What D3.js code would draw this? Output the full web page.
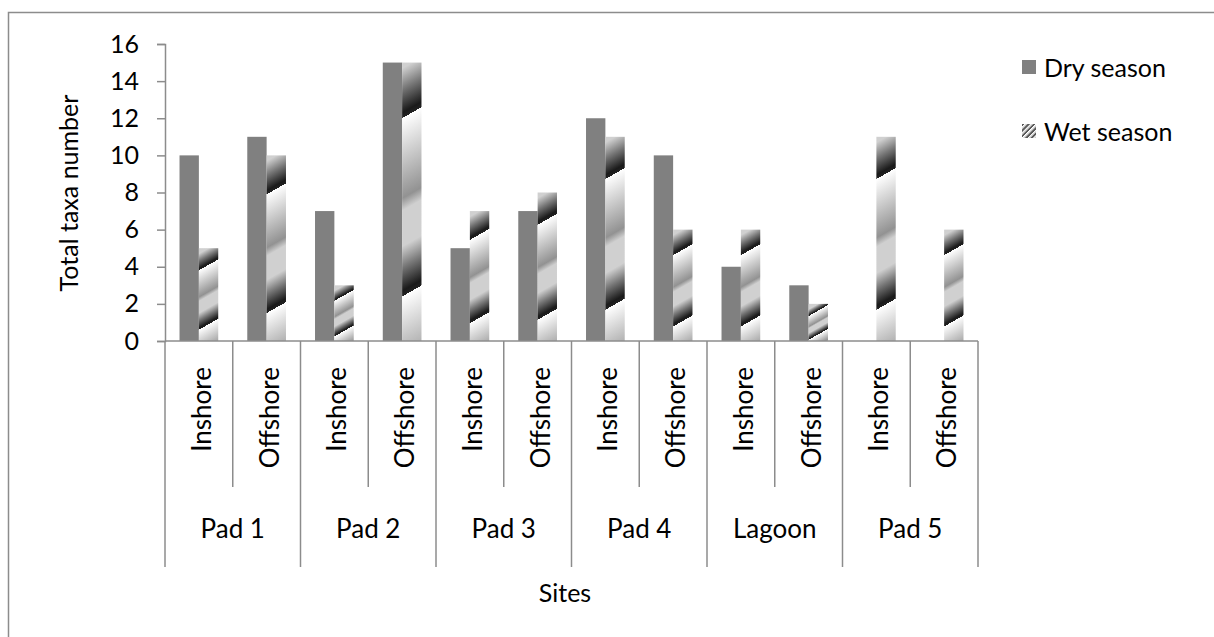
<!DOCTYPE html>
<html>
<head>
<meta charset="utf-8">
<script src="https://cdn.jsdelivr.net/npm/d3@7/dist/d3.min.js"></script>
<style>
  html, body { margin: 0; padding: 0; background: #fff; }
  svg { display: block; font-family: Lato, "Open Sans", sans-serif; }
</style>
</head>
<body>
<svg id="chart" width="1214" height="637"></svg>
<script>
// Sites and sampling positions
const groups = ["Pad 1", "Pad 2", "Pad 3", "Pad 4", "Lagoon", "Pad 5"];
const positions = ["Inshore", "Offshore"];

// Total taxa number per site/position (Inshore, Offshore for each site)
const drySeason = [10, 11, 7, 15, 5, 7, 12, 10, 4, 3, 0, 0];
const wetSeason = [5, 10, 3, 15, 7, 8, 11, 6, 6, 2, 11, 6];

const yTicks = [0, 2, 4, 6, 8, 10, 12, 14, 16];
const seriesNames = ["Dry season", "Wet season"];

const svg = d3.select("#chart");
const defs = svg.append("defs");

const axisColor = "#8c8c8c";
const font = 25;
const catFont = 26;

// Outer chart border
svg.append("rect")
  .attr("x", 8.5).attr("y", 12.5)
  .attr("width", 1230).attr("height", 640)
  .attr("fill", "none").attr("stroke", axisColor).attr("stroke-width", 1.5);

const plot = { left: 165, right: 978, top: 44, bottom: 341 };

const cats = [];
groups.forEach(g => positions.forEach(p => cats.push({ group: g, pos: p, key: g + "|" + p })));
cats.forEach((c, i) => { c.dry = drySeason[i]; c.wet = wetSeason[i]; });

const x = d3.scaleBand().domain(cats.map(c => c.key)).range([plot.left, plot.right]).padding(0);
const xs = d3.scaleBand().domain(["dry", "wet"]).range([0, x.bandwidth()])
  .paddingInner(0).paddingOuter(0.75);
const xg = d3.scaleBand().domain(groups).range([plot.left, plot.right]).padding(0);
const y = d3.scaleLinear().domain([0, 16]).range([plot.bottom, plot.top]);

// Y axis
const yAxis = svg.append("g")
  .attr("transform", `translate(${plot.left},0)`)
  .call(d3.axisLeft(y).tickValues(yTicks).tickSize(8).tickPadding(18));
yAxis.select(".domain").attr("stroke", axisColor).attr("stroke-width", 1.5);
yAxis.selectAll(".tick line").attr("stroke", axisColor).attr("stroke-width", 1.5);
yAxis.selectAll(".tick text").attr("font-size", font).attr("fill", "#000")
  .attr("font-family", "Lato, sans-serif");

// Dry season bars
svg.append("g").selectAll("rect").data(cats).join("rect")
  .attr("x", d => x(d.key) + xs("dry"))
  .attr("y", d => y(d.dry))
  .attr("width", xs.bandwidth())
  .attr("height", d => y(0) - y(d.dry))
  .attr("fill", "#808080");

// Wet season bars: repeating diagonal gradient bands inside each bar
const dir = [0.495, 0.869];
const stops = [
  [0, "#ffffff"], [0.45, "#929292"], [0.52, "#d0d0d0"], [0.72, "#d0d0d0"],
  [0.84, "#767676"], [0.97, "#1a1a1a"], [1, "#222222"]
];
cats.forEach((d, i) => {
  const h = y(0) - y(d.wet);
  const xc = x(d.key) + xs("wet") + xs.bandwidth() / 2;
  const y0 = y(d.wet) + 0.18 * h;
  const L = 0.64 * h * dir[1];
  const g = defs.append("linearGradient")
    .attr("id", "wet" + i)
    .attr("gradientUnits", "userSpaceOnUse")
    .attr("spreadMethod", "repeat")
    .attr("x1", xc).attr("y1", y0)
    .attr("x2", xc + L * dir[0]).attr("y2", y0 + L * dir[1]);
  stops.forEach(s => g.append("stop").attr("offset", s[0]).attr("stop-color", s[1]));
});
svg.append("g").selectAll("rect").data(cats).join("rect")
  .attr("x", d => x(d.key) + xs("wet"))
  .attr("y", d => y(d.wet))
  .attr("width", xs.bandwidth())
  .attr("height", d => y(0) - y(d.wet))
  .attr("fill", (d, i) => `url(#wet${i})`);

// X axis line
svg.append("line")
  .attr("x1", plot.left).attr("x2", plot.right)
  .attr("y1", plot.bottom).attr("y2", plot.bottom)
  .attr("stroke", axisColor).attr("stroke-width", 1.5);

// Separators between positions within a site
svg.append("g").selectAll("line").data(groups).join("line")
  .attr("x1", g => xg(g) + xg.bandwidth() / 2).attr("x2", g => xg(g) + xg.bandwidth() / 2)
  .attr("y1", plot.bottom).attr("y2", 487)
  .attr("stroke", axisColor).attr("stroke-width", 1.5);

// Separators between sites
const bounds = groups.map(g => xg(g)).concat([plot.right]);
svg.append("g").selectAll("line").data(bounds).join("line")
  .attr("x1", d => d).attr("x2", d => d)
  .attr("y1", plot.bottom).attr("y2", 567)
  .attr("stroke", axisColor).attr("stroke-width", 1.5);

// Position labels (rotated)
svg.append("g").selectAll("text").data(cats).join("text")
  .attr("transform", d => `translate(${x(d.key) + x.bandwidth() / 2 + 2},367) rotate(-90)`)
  .attr("text-anchor", "end")
  .attr("dominant-baseline", "central")
  .attr("font-size", catFont)
  .text(d => d.pos);

// Site labels
svg.append("g").selectAll("text").data(groups).join("text")
  .attr("x", g => xg(g) + xg.bandwidth() / 2)
  .attr("y", 528)
  .attr("text-anchor", "middle")
  .attr("dominant-baseline", "central")
  .attr("font-size", catFont)
  .text(g => g);

// Axis titles
svg.append("text")
  .attr("x", 565).attr("y", 592)
  .attr("text-anchor", "middle").attr("dominant-baseline", "central")
  .attr("font-size", font)
  .text("Sites");

svg.append("text")
  .attr("transform", "translate(68,193) rotate(-90)")
  .attr("text-anchor", "middle").attr("dominant-baseline", "central")
  .attr("font-size", font)
  .text("Total taxa number");

// Legend
const legend = svg.append("g").attr("transform", "translate(1022,0)");
const legendY = [67, 131];

legend.append("rect")
  .attr("x", 0).attr("y", legendY[0] - 7).attr("width", 14).attr("height", 14)
  .attr("fill", "#808080");

const lg = defs.append("linearGradient")
  .attr("id", "wetLegend")
  .attr("gradientUnits", "userSpaceOnUse")
  .attr("spreadMethod", "repeat")
  .attr("x1", 1022).attr("y1", legendY[1] - 7)
  .attr("x2", 1024.8).attr("y2", legendY[1] - 7 + 2.8);
[[0, "#ffffff"], [0.45, "#bdbdbd"], [0.6, "#5a5a5a"], [0.9, "#5a5a5a"], [1, "#ffffff"]]
  .forEach(s => lg.append("stop").attr("offset", s[0]).attr("stop-color", s[1]));
legend.append("rect")
  .attr("x", 0).attr("y", legendY[1] - 7).attr("width", 14).attr("height", 14)
  .attr("fill", "url(#wetLegend)");

legend.selectAll("text.lbl").data(seriesNames).join("text")
  .attr("class", "lbl")
  .attr("x", 22)
  .attr("y", (d, i) => legendY[i])
  .attr("dominant-baseline", "central")
  .attr("font-size", font)
  .text(d => d);
</script>
</body>
</html>
